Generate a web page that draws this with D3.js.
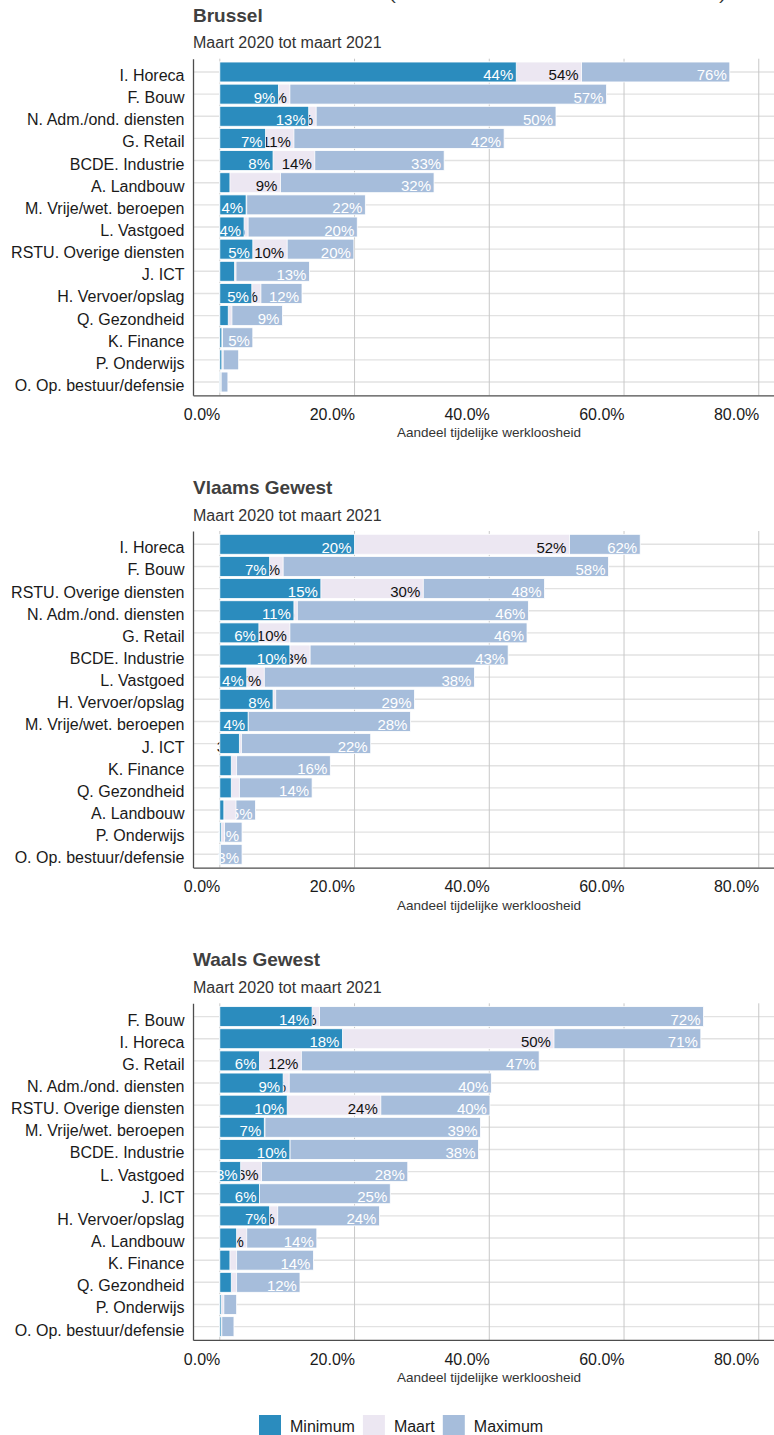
<!DOCTYPE html>
<html>
<head>
<meta charset="utf-8">
<script src="https://cdn.jsdelivr.net/npm/d3@7"></script>
<style>
  body { margin: 0; background: #fff; }
  svg { display: block; font-family: "Liberation Sans", Arial, sans-serif; }
</style>
</head>
<body>
<div id="chart"></div>
<script>
// share of temporary unemployment per sector, in %, March 2020 - March 2021
const subtitle = "Maart 2020 tot maart 2021";
const xTicks = [0, 0.2, 0.4, 0.6, 0.8];
const legendLabels = ["Minimum", "Maart", "Maximum"];

const brusselSectors = ["I. Horeca", "F. Bouw", "N. Adm./ond. diensten", "G. Retail", "BCDE. Industrie", "A. Landbouw",
  "M. Vrije/wet. beroepen", "L. Vastgoed", "RSTU. Overige diensten", "J. ICT", "H. Vervoer/opslag", "Q. Gezondheid",
  "K. Finance", "P. Onderwijs", "O. Op. bestuur/defensie"];
const brusselMin   = [44.0, 8.7, 13.2, 6.8, 7.9, 1.5, 3.9, 3.6, 4.9, 2.2, 4.75, 1.25, 0.3, 0.3, 0.1];
const brusselMaart = [53.7, 10.4, 14.3, 11.0, 14.1, 9.0, 4.0, 4.2, 10.0, 2.4, 6.1, 1.8, 0.4, 0.5, 0.2];
const brusselMax   = [75.7, 57.4, 49.9, 42.2, 33.3, 31.8, 21.6, 20.4, 19.9, 13.3, 12.2, 9.3, 4.9, 2.8, 1.2];

const vlaamsSectors = ["I. Horeca", "F. Bouw", "RSTU. Overige diensten", "N. Adm./ond. diensten", "G. Retail", "BCDE. Industrie",
  "L. Vastgoed", "H. Vervoer/opslag", "M. Vrije/wet. beroepen", "J. ICT", "K. Finance", "Q. Gezondheid",
  "A. Landbouw", "P. Onderwijs", "O. Op. bestuur/defensie"];
const vlaamsMin   = [20.0, 7.4, 15.0, 11.0, 5.8, 10.4, 4.0, 7.9, 4.2, 2.9, 1.7, 1.7, 0.6, 0.2, 0.05];
const vlaamsMaart = [51.9, 9.4, 30.2, 11.5, 10.4, 13.4, 6.6, 8.3, 4.2, 3.2, 2.5, 2.9, 2.4, 0.7, 0.1];
const vlaamsMax   = [62.4, 57.7, 48.2, 45.8, 45.6, 42.8, 37.8, 28.9, 28.3, 22.4, 16.4, 13.7, 5.3, 3.3, 3.3];

const waalsSectors = ["F. Bouw", "I. Horeca", "G. Retail", "N. Adm./ond. diensten", "RSTU. Overige diensten", "M. Vrije/wet. beroepen",
  "BCDE. Industrie", "L. Vastgoed", "J. ICT", "H. Vervoer/opslag", "A. Landbouw", "K. Finance",
  "Q. Gezondheid", "P. Onderwijs", "O. Op. bestuur/defensie"];
const waalsMin   = [13.7, 18.2, 5.9, 9.4, 10.0, 6.6, 10.4, 3.1, 5.9, 7.4, 2.5, 1.5, 1.7, 0.2, 0.2];
const waalsMaart = [14.8, 49.6, 12.1, 10.3, 23.9, 6.7, 10.4, 6.2, 5.9, 8.6, 4.0, 2.5, 2.5, 0.6, 0.3];
const waalsMax   = [71.8, 71.4, 47.4, 40.3, 40.1, 38.7, 38.4, 27.9, 25.3, 23.7, 14.4, 13.9, 11.9, 2.5, 2.1];

const panels = [
  {title: "Brussel", sectors: brusselSectors, min: brusselMin, maart: brusselMaart, max: brusselMax},
  {title: "Vlaams Gewest", sectors: vlaamsSectors, min: vlaamsMin, maart: vlaamsMaart, max: vlaamsMax},
  {title: "Waals Gewest", sectors: waalsSectors, min: waalsMin, maart: waalsMaart, max: waalsMax}
];

const colMin = "#2b8cbe", colMaart = "#ece7f2", colMax = "#a6bddb";

const width = 774, height = 1435;
const left = 193;
const plotH = 336.6;

const svg = d3.select("#chart").append("svg")
  .attr("width", width)
  .attr("height", height);

// remnant of the page title, cut off at the top
svg.append("text")
  .attr("x", 389)
  .attr("y", 0)
  .attr("font-size", "16px")
  .attr("fill", "#333")
  .attr("textLength", 337)
  .attr("lengthAdjust", "spacingAndGlyphs")
  .text("(minimum en maximum in de sector)");

const x = d3.scaleLinear()
  .domain([-0.0398, 0.8226])
  .range([left, width]);

function drawPanel(p, top) {
  const g = svg.append("g");

  const y = d3.scalePoint()
    .domain(p.sectors)
    .range([top, top + plotH])
    .padding(0.6);
  const bh = y.step() * 0.9;

  g.append("text")
    .attr("x", left)
    .attr("y", top - 37)
    .attr("font-size", "19px")
    .attr("font-weight", "bold")
    .attr("fill", "#404040")
    .text(p.title);

  g.append("text")
    .attr("x", left)
    .attr("y", top - 10.5)
    .attr("font-size", "16px")
    .attr("fill", "#333")
    .text(subtitle);

  // grid
  g.append("g").selectAll("line")
    .data(p.sectors)
    .join("line")
    .attr("x1", left).attr("x2", width)
    .attr("y1", d => y(d)).attr("y2", d => y(d))
    .attr("stroke", "#e2e2e2")
    .attr("stroke-width", 1.4);

  g.append("g").selectAll("line")
    .data(xTicks)
    .join("line")
    .attr("x1", d => x(d)).attr("x2", d => x(d))
    .attr("y1", top).attr("y2", top + plotH)
    .attr("stroke", "#c8c8c8")
    .attr("stroke-width", 1);

  const rows = p.sectors.map((s, i) => ({sector: s, min: p.min[i], maart: p.maart[i], max: p.max[i]}));

  // max first, then maart, then min on top; each with its own labels
  const layers = [["max", colMax, "#fff"], ["maart", colMaart, "#111"], ["min", colMin, "#fff"]];
  layers.forEach(([key, fill, textColor]) => {
    g.append("g").selectAll("rect")
      .data(rows)
      .join("rect")
      .attr("x", x(0))
      .attr("y", d => y(d.sector) - bh / 2)
      .attr("width", d => x(d[key] / 100) - x(0))
      .attr("height", bh)
      .attr("fill", fill)
      .attr("stroke", "#fff")
      .attr("stroke-width", 0.8);

    g.append("g").selectAll("text")
      .data(rows.filter(d => d[key] >= 3))
      .join("text")
      .attr("x", d => x(d[key] / 100) - 3)
      .attr("y", d => y(d.sector) + 8.5)
      .attr("text-anchor", "end")
      .attr("font-size", "15px")
      .attr("fill", textColor)
      .text(d => Math.round(d[key]) + "%");
  });

  // axes
  const yAxis = g.append("g")
    .attr("transform", "translate(" + left + ",0)")
    .call(d3.axisLeft(y).tickSize(0).tickSizeOuter(0).tickPadding(8.5));
  yAxis.attr("font-size", null).attr("font-family", null);
  yAxis.select(".domain").attr("stroke", "#4d4d4d").attr("stroke-width", 1.3);
  yAxis.selectAll("text")
    .attr("dy", null)
    .attr("y", 8.5)
    .attr("font-size", "16px")
    .attr("fill", "#1a1a1a");

  const xAxis = g.append("g")
    .attr("transform", "translate(0," + (top + plotH) + ")")
    .call(d3.axisBottom(x).tickValues(xTicks).tickFormat(d3.format(".1%")).tickSize(0).tickSizeOuter(0));
  xAxis.attr("font-size", null).attr("font-family", null);
  xAxis.select(".domain").attr("stroke", "#4d4d4d").attr("stroke-width", 1.3);
  xAxis.selectAll("text")
    .attr("dy", null)
    .attr("y", 24.7)
    .attr("text-anchor", "end")
    .attr("font-size", "16px")
    .attr("fill", "#1a1a1a");

  g.append("text")
    .attr("x", 489)
    .attr("y", top + plotH + 42)
    .attr("text-anchor", "middle")
    .attr("font-size", "13.5px")
    .attr("fill", "#333")
    .text("Aandeel tijdelijke werkloosheid");
}

panels.forEach((p, i) => drawPanel(p, 58.7 + i * 472.3));

// legend
const legend = svg.append("g").attr("transform", "translate(259,1415)");
let lx = 0;
legendLabels.forEach((label, i) => {
  const item = legend.append("g").attr("transform", "translate(" + lx + ",0)");
  item.append("rect")
    .attr("width", 22)
    .attr("height", 22)
    .attr("fill", [colMin, colMaart, colMax][i]);
  const t = item.append("text")
    .attr("x", 31)
    .attr("y", 17)
    .attr("font-size", "16px")
    .attr("fill", "#1a1a1a")
    .text(label);
  lx += 31 + t.node().getComputedTextLength() + 8;
});
</script>
</body>
</html>
